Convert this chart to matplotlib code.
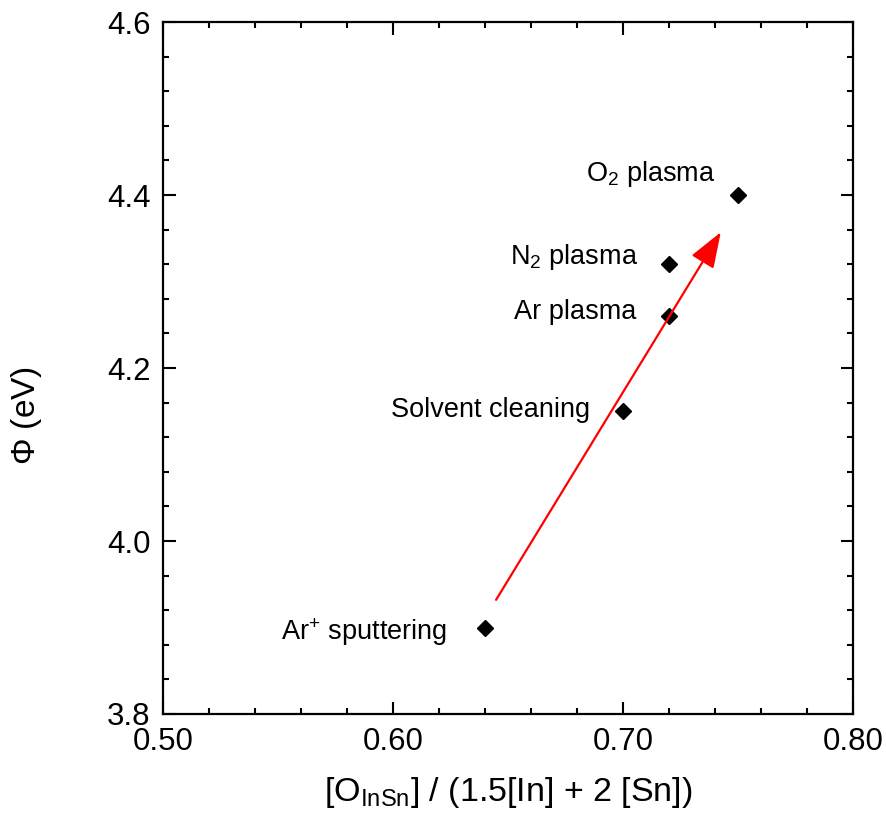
import matplotlib
matplotlib.use("Agg")
import matplotlib.pyplot as plt
from matplotlib.ticker import MultipleLocator

plt.rcParams['font.family'] = ['Liberation Sans', 'DejaVu Sans']
plt.rcParams['mathtext.fontset'] = 'custom'
plt.rcParams['mathtext.rm'] = 'Liberation Sans'
plt.rcParams['mathtext.it'] = 'Liberation Sans:italic'

# treatments and measured values
labels = ['Ar$^{+}$ sputtering', 'Solvent cleaning', 'Ar plasma',
          'N$_{2}$ plasma', 'O$_{2}$ plasma']
oxygen_ratio = [0.64, 0.70, 0.72, 0.72, 0.75]
work_function = [3.90, 4.15, 4.26, 4.32, 4.40]
# label offsets in pixels (right-aligned text)
offsets = [(-38, -5), (-33, 1), (-33, 4), (-31, 7), (-22, 21)]

# trend arrow (data coords)
arrow_start = (0.6448, 3.932)
arrow_end = (0.7425, 4.357)

fig = plt.figure(figsize=(8.87, 8.16), dpi=100)
ax = fig.add_axes([0.1838, 0.125, 0.9617 - 0.1838, 0.973 - 0.125])

ax.plot(oxygen_ratio, work_function, linestyle='none', marker='D',
        markersize=8.5, color='black')

for x, y, lab, off in zip(oxygen_ratio, work_function, labels, offsets):
    ax.annotate(lab, (x, y), xytext=off, textcoords='offset pixels',
                ha='right', va='center', fontsize=19.5)

ax.annotate('', xy=arrow_end, xytext=arrow_start,
            arrowprops=dict(arrowstyle='-|>,head_length=2.2,head_width=0.8',
                            color='red', lw=1.6, shrinkA=0, shrinkB=0))

ax.set_xlim(0.50, 0.80)
ax.set_ylim(3.8, 4.6)
ax.xaxis.set_major_locator(MultipleLocator(0.10))
ax.xaxis.set_minor_locator(MultipleLocator(0.02))
ax.yaxis.set_major_locator(MultipleLocator(0.2))
ax.yaxis.set_minor_locator(MultipleLocator(0.04))
ax.xaxis.set_major_formatter(plt.FormatStrFormatter('%.2f'))
ax.yaxis.set_major_formatter(plt.FormatStrFormatter('%.1f'))

ax.tick_params(which='both', direction='in', top=True, right=True,
               width=1.5, labelsize=22.5)
ax.tick_params(which='major', length=9, pad=9)
ax.tick_params(which='minor', length=4.5)
for s in ax.spines.values():
    s.set_linewidth(1.6)

ax.set_xlabel(r'[O$_{\mathrm{InSn}}$] / (1.5[In] + 2 [Sn])', fontsize=24.5,
              labelpad=13)
ax.set_ylabel(r'$\Phi$ (eV)', fontsize=24)
ax.yaxis.set_label_coords(-0.172, 0.432)

fig.savefig('out.png', dpi=100)
